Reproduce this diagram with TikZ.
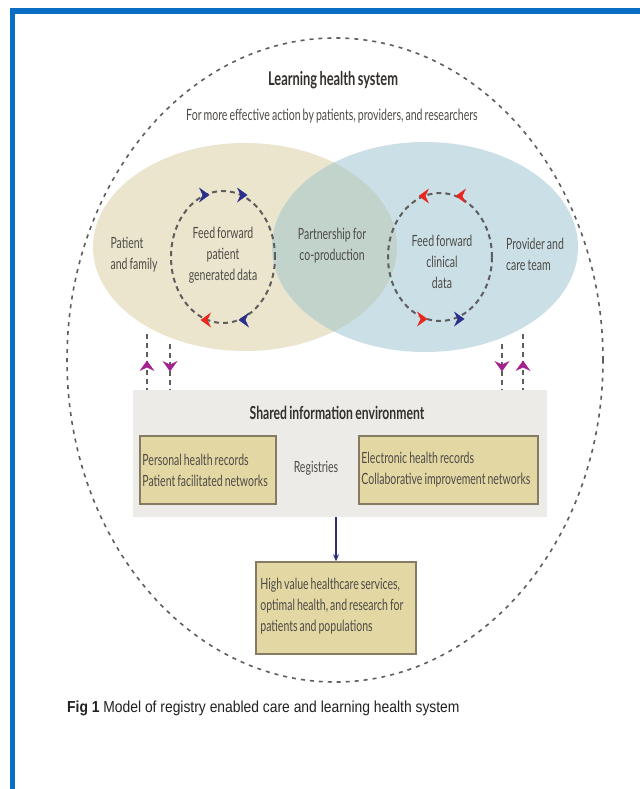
\documentclass[tikz,border=0pt]{standalone}
\usepackage{fontspec}
\newfontfamily\dfont{Lato}[FakeStretch=0.68, WordSpace=0.75]
\newfontfamily\cfont{Liberation Sans}[FakeStretch=0.87]
\usetikzlibrary{arrows.meta}
\definecolor{frameblue}{HTML}{0A6EC4}
\definecolor{beige}{HTML}{EAE5CC}
\definecolor{lblue}{HTML}{CBDFE6}
\definecolor{overlapc}{HTML}{C2D3CC}
\definecolor{dashgray}{HTML}{5E5E5E}
\definecolor{textgray}{HTML}{4E4B47}
\definecolor{titlegray}{HTML}{34302D}
\definecolor{greyboxc}{HTML}{EDEBE8}
\definecolor{tanfill}{HTML}{E3D7A3}
\definecolor{tanedge}{HTML}{857B63}
\definecolor{navy}{HTML}{2E2E80}
\definecolor{purp}{HTML}{A3228F}
\definecolor{arrred}{HTML}{E8281E}
\definecolor{arrblue}{HTML}{2B2F8C}
\definecolor{capgray}{HTML}{222222}
\tikzset{
  dtext/.style={text=textgray, font=\dfont\fontsize{15.5}{21}\selectfont, inner sep=0pt},
  dbold/.style={text=titlegray, font=\dfont\bfseries\fontsize{19}{22}\selectfont, inner sep=0pt},
  outerdash/.style={draw=dashgray, line width=1.6bp, dash pattern=on 4bp off 5bp},
  smalldash/.style={draw=dashgray, line width=2bp, dash pattern=on 5bp off 4bp},
  tanbox/.style={draw=tanedge, fill=tanfill, line width=1.5bp, inner sep=0pt},
  chev/.pic={\fill (-6,-7.5) -- (4.5,0) -- (-6,7.5) -- (-2.5,0) -- cycle;},
  navyarrow/.style={draw=navy, line width=1.2bp, -{Stealth[length=7bp, width=6bp]}}
}
\begin{document}
\begin{tikzpicture}[x=1bp,y=-1bp]
\useasboundingbox (0,0) rectangle (640,789);
\fill[white] (0,0) rectangle (640,789);
% frame
\fill[frameblue] (10,8) rectangle (640,14);
\fill[frameblue] (10,8) rectangle (15,789);
% outer ellipse
\draw[outerdash] (335,360) ellipse [x radius=268bp, y radius=322bp];
% ellipses
\fill[beige] (245,247) ellipse [x radius=152bp, y radius=104bp];
\fill[lblue] (425,247) ellipse [x radius=153bp, y radius=105bp];
\begin{scope}
  \clip (245,247) ellipse [x radius=152bp, y radius=104bp];
  \fill[overlapc] (425,247) ellipse [x radius=153bp, y radius=105bp];
\end{scope}
% small dashed loops
\draw[smalldash] (223,257) ellipse [x radius=52bp, y radius=66bp];
\draw[smalldash] (440,257) ellipse [x radius=52bp, y radius=64bp];
% loop arrowheads
\pic[color=arrblue] at (205,195) {chev};
\pic[color=arrblue] at (243,195) {chev};
\pic[color=arrred, rotate=180] at (205,320) {chev};
\pic[color=arrblue, rotate=180] at (243,320) {chev};
\pic[color=arrred, rotate=180] at (423,196) {chev};
\pic[color=arrred, rotate=180] at (460,196) {chev};
\pic[color=arrred] at (423,319) {chev};
\pic[color=arrblue] at (460,319) {chev};
% title texts
\node[dbold] (title) at (333,80) {Learning health system};
\node[dtext, font=\dfont\fontsize{15.6}{18}\selectfont] (sub) at (332,116) {For more effective action by patients, providers, and researchers};
\node[dtext, align=left] (pf) at (134,255) {Patient\\and family};
\node[dtext, align=center] (ffp) at (223,255) {Feed forward\\patient\\generated data};
\node[dtext, align=center] (pcp) at (332,246) {Partnership for\\co-production};
\node[dtext, align=center] (ffc) at (442,262) {Feed forward\\clinical\\data};
\node[dtext, align=left] (pct) at (535,254) {Provider and\\care team};
% shared information environment
\node[fill=greyboxc, minimum width=414bp, minimum height=127bp, inner sep=0pt] (shared) at (340,453.5) {};
\node[dbold, font=\dfont\bfseries\fontsize{18}{20}\selectfont] (sietitle) at (337,413) {Shared information environment};
\node[tanbox, minimum width=136bp, minimum height=68bp] (phr) at (208,470) {};
\node[dtext, align=left, anchor=west] (phrt) at ([xshift=3bp]phr.west) {Personal health records\\Patient facilitated networks};
\node[dtext] (reg) at (316,468) {Registries};
\node[tanbox, minimum width=179bp, minimum height=68bp] (ehr) at (448.5,470) {};
\node[dtext, align=left, anchor=west] (ehrt) at ([xshift=3bp]ehr.west) {Electronic health records\\Collaborative improvement networks};
% bottom box
\node[tanbox, minimum width=160bp, minimum height=92bp] (hv) at (336,608) {};
\node[dtext, align=left, anchor=west] (hvt) at ([xshift=5bp,yshift=2bp]hv.west) {High value healthcare services,\\optimal health, and research for\\patients and populations};
\draw[navyarrow] (hv.north |- shared.south) -- (hv.north);
% purple links
\coordinate (l1) at (147,334);
\coordinate (l2) at (170,344);
\coordinate (r1) at (502,344);
\coordinate (r2) at (523,334);
\draw[smalldash] (l1) -- (l1 |- shared.north);
\draw[smalldash] (l2) -- (l2 |- shared.north);
\draw[smalldash] (r1) -- (r1 |- shared.north);
\draw[smalldash] (r2) -- (r2 |- shared.north);
\pic[color=purp, rotate=90] at (147,365) {chev};
\pic[color=purp, rotate=-90] at (170,367) {chev};
\pic[color=purp, rotate=-90] at (502,367) {chev};
\pic[color=purp, rotate=90] at (523,365) {chev};
% caption
\node[anchor=west, inner sep=0pt, text=capgray, font=\cfont\fontsize{16}{19}\selectfont] (cap) at (67,708) {\textbf{Fig 1} Model of registry enabled care and learning health system};
\end{tikzpicture}
\end{document}
